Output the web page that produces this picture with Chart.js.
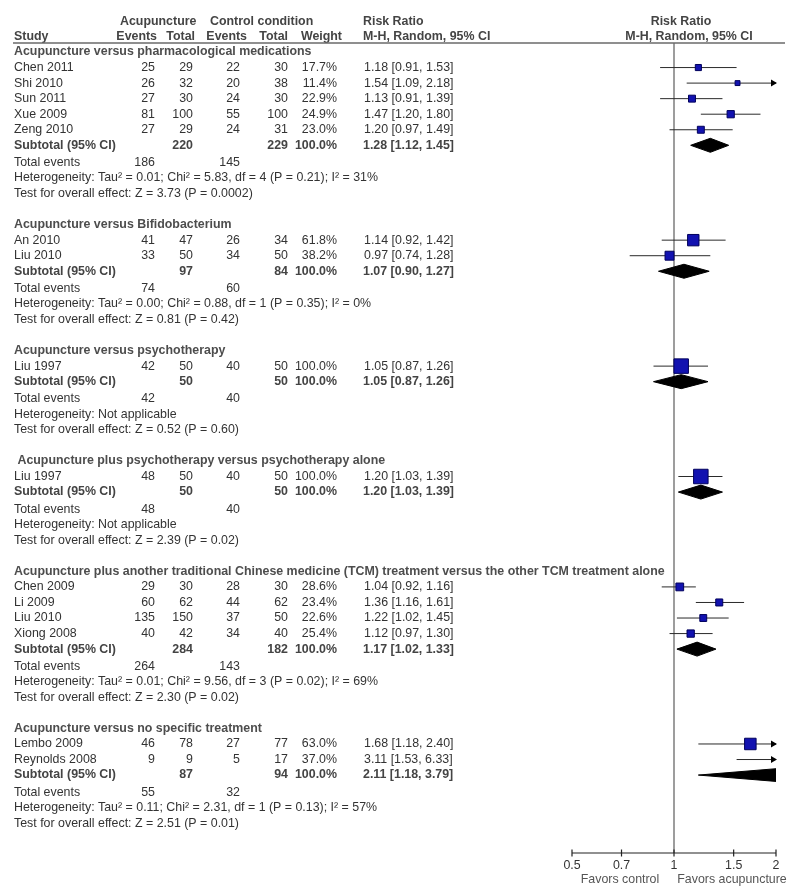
<!DOCTYPE html>
<html>
<head>
<meta charset="utf-8">
<script src="https://cdn.jsdelivr.net/npm/chart.js@4.4.1/dist/chart.umd.min.js"></script>
<style>
  html, body { margin: 0; padding: 0; background: #fff; }
</style>
</head>
<body>
<canvas id="forest" width="800" height="891"></canvas>
<script>
// Dados do forest plot
const groupTitles = [
  "Acupuncture versus pharmacological medications",
  "Acupuncture versus Bifidobacterium",
  "Acupuncture versus psychotherapy",
  " Acupuncture plus psychotherapy versus psychotherapy alone",
  "Acupuncture plus another traditional Chinese medicine (TCM) treatment versus the other TCM treatment alone",
  "Acupuncture versus no specific treatment"
];
const studyGroup = [0, 0, 0, 0, 0, 1, 1, 2, 3, 4, 4, 4, 4, 5, 5];
const studyNames = ["Chen 2011", "Shi 2010", "Sun 2011", "Xue 2009", "Zeng 2010",
  "An 2010", "Liu 2010", "Liu 1997", "Liu 1997",
  "Chen 2009", "Li 2009", "Liu 2010", "Xiong 2008",
  "Lembo 2009", "Reynolds 2008"];
const acuEvents = [25, 26, 27, 81, 27, 41, 33, 42, 48, 29, 60, 135, 40, 46, 9];
const acuTotal  = [29, 32, 30, 100, 29, 47, 50, 50, 50, 30, 62, 150, 42, 78, 9];
const ctlEvents = [22, 20, 24, 55, 24, 26, 34, 40, 40, 28, 44, 37, 34, 27, 5];
const ctlTotal  = [30, 38, 30, 100, 31, 34, 50, 50, 50, 30, 62, 50, 40, 77, 17];
const weights   = [17.7, 11.4, 22.9, 24.9, 23.0, 61.8, 38.2, 100, 100, 28.6, 23.4, 22.6, 25.4, 63.0, 37.0];
const rr        = [1.18, 1.54, 1.13, 1.47, 1.20, 1.14, 0.97, 1.05, 1.20, 1.04, 1.36, 1.22, 1.12, 1.68, 3.11];
const ciLow     = [0.91, 1.09, 0.91, 1.20, 0.97, 0.92, 0.74, 0.87, 1.03, 0.92, 1.16, 1.02, 0.97, 1.18, 1.53];
const ciHigh    = [1.53, 2.18, 1.39, 1.80, 1.49, 1.42, 1.28, 1.26, 1.39, 1.16, 1.61, 1.45, 1.30, 2.40, 6.33];

const subAcuTotal = [220, 97, 50, 50, 284, 87];
const subCtlTotal = [229, 84, 50, 50, 182, 94];
const subRR   = [1.28, 1.07, 1.05, 1.20, 1.17, 2.11];
const subLow  = [1.12, 0.90, 0.87, 1.03, 1.02, 1.18];
const subHigh = [1.45, 1.27, 1.26, 1.39, 1.33, 3.79];
const totAcuEvents = [186, 74, 42, 48, 264, 55];
const totCtlEvents = [145, 60, 40, 40, 143, 32];
const heterogeneity = [
  "Heterogeneity: Tau² = 0.01; Chi² = 5.83, df = 4 (P = 0.21); I² = 31%",
  "Heterogeneity: Tau² = 0.00; Chi² = 0.88, df = 1 (P = 0.35); I² = 0%",
  "Heterogeneity: Not applicable",
  "Heterogeneity: Not applicable",
  "Heterogeneity: Tau² = 0.01; Chi² = 9.56, df = 3 (P = 0.02); I² = 69%",
  "Heterogeneity: Tau² = 0.11; Chi² = 2.31, df = 1 (P = 0.13); I² = 57%"
];
const overallEffect = [
  "Test for overall effect: Z = 3.73 (P = 0.0002)",
  "Test for overall effect: Z = 0.81 (P = 0.42)",
  "Test for overall effect: Z = 0.52 (P = 0.60)",
  "Test for overall effect: Z = 2.39 (P = 0.02)",
  "Test for overall effect: Z = 2.30 (P = 0.02)",
  "Test for overall effect: Z = 2.51 (P = 0.01)"
];
const xTicks = [0.5, 0.7, 1, 1.5, 2];
const xMin = 0.5, xMax = 2;

// Layout (linhas)
const ROW_H = 15.55;
const FIRST_ROW_PX = 52;
const AREA_TOP = 43, AREA_BOTTOM = 853, AREA_LEFT = 572, AREA_RIGHT = 776;
const yMin = (AREA_TOP - FIRST_ROW_PX) / ROW_H;
const yMax = (AREA_BOTTOM - FIRST_ROW_PX) / ROW_H;

// monta a posição de cada linha da tabela
const headRow = [], studyRow = [], subRow = [], totRow = [];
let r = 0;
groupTitles.forEach((t, g) => {
  headRow.push(r); r += 1;
  studyNames.forEach((n, i) => {
    if (studyGroup[i] === g) { studyRow[i] = r; r += 1; }
  });
  subRow.push(r); r += 1.1;
  totRow.push(r); r += 4;
});

const FONT = '"Liberation Sans", Arial, sans-serif';
const FS = "12.4px ";
const col = { study: 14, acuEv: 155, acuTot: 193, ctlEv: 240, ctlTot: 288, weight: 337, rr: 364 };

// datasets
const datasets = [];
datasets.push({
  label: "linha 1",
  data: [{ x: 1, y: yMin }, { x: 1, y: yMax }],
  borderColor: "#7d7d7d", borderWidth: 1.5, pointRadius: 0, order: 4
});
studyNames.forEach((n, i) => {
  datasets.push({
    label: "IC " + n,
    data: [{ x: ciLow[i], y: studyRow[i] }, { x: ciHigh[i], y: studyRow[i] }],
    borderColor: "#2a2a2a", borderWidth: 1, pointRadius: 0, order: 3
  });
});
subRR.forEach((v, g) => {
  const y = subRow[g], h = 0.45;
  datasets.push({
    label: "subtotal " + g,
    data: [
      { x: subLow[g], y: y }, { x: v, y: y - h },
      { x: subHigh[g], y: y }, { x: v, y: y + h }, { x: subLow[g], y: y }
    ],
    borderColor: "#000", backgroundColor: "#000", borderWidth: 1,
    pointRadius: 0, fill: "shape", order: 2
  });
});
datasets.push({
  label: "estudos",
  data: studyNames.map((n, i) => ({ x: rr[i], y: studyRow[i] })),
  showLine: false,
  pointStyle: "rect",
  pointRadius: weights.map((w) => (1.45 * Math.sqrt(w)) / Math.SQRT2),
  pointBackgroundColor: "#1212b0",
  pointBorderColor: "#00005c",
  pointBorderWidth: 1,
  order: 1
});

// plugin que desenha texto, setas e eixo
const forestText = {
  id: "forestText",
  afterDatasetsDraw(chart) {
    const ctx = chart.ctx;
    const xs = chart.scales.x, ys = chart.scales.y;
    // setas para IC fora da escala
    ctx.save();
    ctx.fillStyle = "#000";
    ciHigh.forEach((hi, i) => {
      if (hi > xMax) {
        const px = xs.getPixelForValue(xMax), py = ys.getPixelForValue(studyRow[i]);
        ctx.beginPath();
        ctx.moveTo(px + 1, py);
        ctx.lineTo(px - 5, py - 3.5);
        ctx.lineTo(px - 5, py + 3.5);
        ctx.closePath();
        ctx.fill();
      }
    });
    ctx.restore();
  },
  afterDraw(chart) {
    const ctx = chart.ctx;
    const xs = chart.scales.x, ys = chart.scales.y;
    const Y = (row) => ys.getPixelForValue(row);
    const txt = (s, x, y, align, bold, color) => {
      ctx.font = (bold ? "bold " : "") + FS + FONT;
      ctx.textAlign = align;
      ctx.fillStyle = color || "#333";
      ctx.fillText(s, x, y);
    };
    ctx.save();
    ctx.textBaseline = "middle";

    // cabeçalho
    const h1 = Y(-1.94), h2 = Y(-0.97);
    txt("Acupuncture", 120, h1, "left", true, "#444");
    txt("Control condition", 210, h1, "left", true, "#444");
    txt("Risk Ratio", 363, h1, "left", true, "#444");
    txt("Risk Ratio", 681, h1, "center", true, "#444");
    txt("Study", 14, h2, "left", true, "#444");
    txt("Events", 157, h2, "right", true, "#444");
    txt("Total", 195, h2, "right", true, "#444");
    txt("Events", 247, h2, "right", true, "#444");
    txt("Total", 288, h2, "right", true, "#444");
    txt("Weight", 342, h2, "right", true, "#444");
    txt("M-H, Random, 95% CI", 363, h2, "left", true, "#444");
    txt("M-H, Random, 95% CI", 689, h2, "center", true, "#444");
    ctx.strokeStyle = "#6a6a6a";
    ctx.lineWidth = 1.5;
    ctx.beginPath();
    ctx.moveTo(13, AREA_TOP);
    ctx.lineTo(785, AREA_TOP);
    ctx.stroke();

    const ci = (v, lo, hi) => v.toFixed(2) + " [" + lo.toFixed(2) + ", " + hi.toFixed(2) + "]";

    groupTitles.forEach((t, g) => {
      txt(t, 14, Y(headRow[g]), "left", true, "#4d4d4d");
      const s = subRow[g], tr = totRow[g];
      txt("Subtotal (95% CI)", col.study, Y(s), "left", true, "#444");
      txt(String(subAcuTotal[g]), col.acuTot, Y(s), "right", true, "#444");
      txt(String(subCtlTotal[g]), col.ctlTot, Y(s), "right", true, "#444");
      txt("100.0%", col.weight, Y(s), "right", true, "#444");
      txt(ci(subRR[g], subLow[g], subHigh[g]), col.rr - 1, Y(s), "left", true, "#444");
      txt("Total events", col.study, Y(tr), "left");
      txt(String(totAcuEvents[g]), col.acuEv, Y(tr), "right");
      txt(String(totCtlEvents[g]), col.ctlEv, Y(tr), "right");
      txt(heterogeneity[g], col.study, Y(tr + 1), "left");
      txt(overallEffect[g], col.study, Y(tr + 2), "left");
    });

    studyNames.forEach((n, i) => {
      const y = Y(studyRow[i]);
      txt(n, col.study, y, "left");
      txt(String(acuEvents[i]), col.acuEv, y, "right");
      txt(String(acuTotal[i]), col.acuTot, y, "right");
      txt(String(ctlEvents[i]), col.ctlEv, y, "right");
      txt(String(ctlTotal[i]), col.ctlTot, y, "right");
      txt(weights[i].toFixed(1) + "%", col.weight, y, "right");
      txt(ci(rr[i], ciLow[i], ciHigh[i]), col.rr, y, "left");
    });

    // eixo x
    const ay = ys.getPixelForValue(yMax);
    ctx.strokeStyle = "#222";
    ctx.lineWidth = 1.2;
    ctx.beginPath();
    ctx.moveTo(xs.getPixelForValue(xMin), ay);
    ctx.lineTo(xs.getPixelForValue(xMax), ay);
    xTicks.forEach((v) => {
      const px = xs.getPixelForValue(v);
      ctx.moveTo(px, ay - 3.5);
      ctx.lineTo(px, ay + 3.5);
    });
    ctx.stroke();
    xTicks.forEach((v) => txt(String(v), xs.getPixelForValue(v), ay + 13, "center", false, "#333"));
    txt("Favors control", 620, ay + 27, "center", false, "#555");
    txt("Favors acupuncture", 732, ay + 27, "center", false, "#555");
    ctx.restore();
  }
};

new Chart(document.getElementById("forest"), {
  type: "line",
  data: { datasets: datasets },
  options: {
    responsive: false,
    animation: false,
    layout: {
      padding: { left: AREA_LEFT, right: 800 - AREA_RIGHT, top: AREA_TOP, bottom: 891 - AREA_BOTTOM }
    },
    scales: {
      x: { type: "logarithmic", min: xMin, max: xMax, display: false },
      y: { type: "linear", min: yMin, max: yMax, reverse: true, display: false }
    },
    plugins: {
      legend: { display: false },
      tooltip: { enabled: false }
    }
  },
  plugins: [forestText]
});
</script>
</body>
</html>
